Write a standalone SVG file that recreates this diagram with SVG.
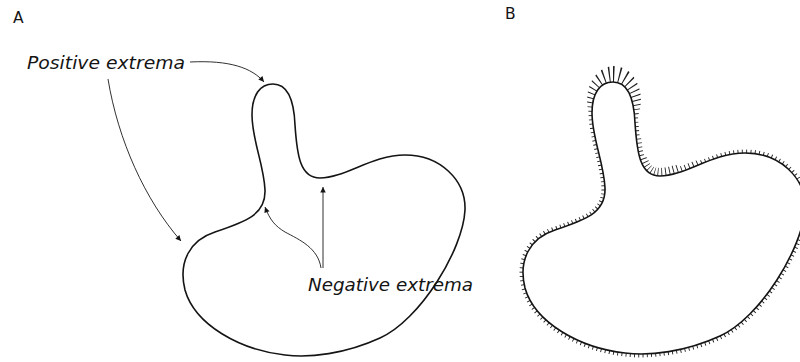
<svg xmlns="http://www.w3.org/2000/svg" xmlns:xlink="http://www.w3.org/1999/xlink" width="800" height="362" viewBox="0 0 800 362">
<style>
.outline{fill:none;stroke:#141414;stroke-width:1.6;stroke-linejoin:round}
.conn{fill:none;stroke:#1a1a1a;stroke-width:0.9}
.lbl{font-family:"DejaVu Sans","Liberation Sans",sans-serif;font-style:italic;font-size:17.5px;fill:#141414}
.panel{font-family:"DejaVu Sans","Liberation Sans",sans-serif;font-size:15.5px;fill:#141414}
.mk{fill:none;stroke:#fff;stroke-linecap:round}
</style>
<defs>
<path id="blob" d="M273,84 C288,84 294,100 295,125 C297,155 300,178 320,178 C345,178 372,155 405,155 C440,155 466,180 465,210 C463,250 420,320 380,338 C345,354 310,358 285,355 C240,350 195,325 185,290 C178,262 190,240 215,232 C245,222 266,215 265,190 C264,165 252,140 252,115 C252,95 260,84 273,84 Z"/>
<marker id="arr" viewBox="0 0 10 10" refX="10" refY="5" markerWidth="8" markerHeight="5.5" markerUnits="userSpaceOnUse" orient="auto">
<path d="M0,0 L10,5 L0,10 Z" fill="#141414"/>
</marker>
<mask id="tickMask" maskUnits="userSpaceOnUse" x="0" y="0" width="800" height="362">
<use xlink:href="#blob" transform="translate(340,-2)" fill="none" stroke="#fff" stroke-width="7"/>
<ellipse cx="614" cy="100" rx="27" ry="34" fill="#fff"/>
<path class="mk" stroke-width="11" d="M636,140 C638,165 645,176 660,176 C674,176 684,171 696,166"/>
<path class="mk" stroke-width="16" d="M641,163 C644,172 650,176 660,176 C666,176 671,175 676,173"/>
<use xlink:href="#blob" transform="translate(340,-2)" fill="#000" stroke="none"/>
</mask>
</defs>
<rect width="800" height="362" fill="#fff"/>
<g id="panelA">
<text class="panel" x="13" y="23">A</text>
<use id="shapeA" xlink:href="#blob" class="outline"/>
</g>
<g id="label-positive">
<text class="lbl" x="27" y="69" textLength="158" lengthAdjust="spacingAndGlyphs">Positive extrema</text>
</g>
<g id="label-negative">
<text class="lbl" x="308" y="291" textLength="165" lengthAdjust="spacingAndGlyphs">Negative extrema</text>
</g>
<g id="connectors">
<path class="conn" d="M190,62 C230,60 252,68 264,82" marker-end="url(#arr)"/>
<path class="conn" d="M108,79 C118,140 145,200 181,241" marker-end="url(#arr)"/>
<path class="conn" d="M323,268 L323,187" marker-end="url(#arr)"/>
<path class="conn" d="M321,268 C318,248 300,240 285,232 C275,226 270,220 265,207" marker-end="url(#arr)"/>
</g>
<g id="panelB">
<text class="panel" x="505" y="19">B</text>
<g mask="url(#tickMask)">
<use xlink:href="#blob" transform="translate(340,-2)" fill="none" stroke="#1e1e1e" stroke-width="34" stroke-dasharray="0.9 3.3"/>
</g>
<use id="shapeB" xlink:href="#blob" transform="translate(340,-2)" class="outline"/>
</g>
</svg>
